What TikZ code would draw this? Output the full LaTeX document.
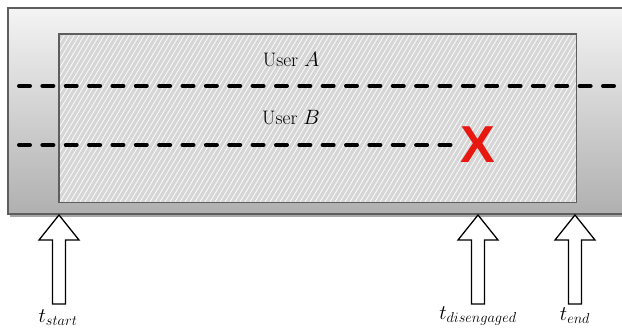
\documentclass[tikz,border=0pt]{standalone}
\usepackage{fontspec}
\newfontfamily\markfont{Liberation Sans}[BoldFont={Liberation Sans Bold}]
\definecolor{frameedge}{HTML}{5E5E5E}
\definecolor{paneltop}{HTML}{F4F4F4}
\definecolor{panelbot}{HTML}{B0B0B0}
\definecolor{sessionfill}{HTML}{D6D6D6}
\definecolor{failred}{HTML}{E8170F}
\tikzset{
  track/.style={line width=4pt, line cap=round, dash pattern=on 11pt off 12.36pt},
  upmark/.style={draw=black, fill=white, line width=1.3pt, line join=miter},
  lbl/.style={font=\fontsize{19.5}{22}\selectfont, inner sep=0pt},
}
\begin{document}
\begin{tikzpicture}[x=1pt,y=-1pt]
\useasboundingbox (0,0) rectangle (622,330);
% outer panel with a soft shadow
\fill[black!35] (10,11) rectangle (632,217);
\shade[top color=paneltop, bottom color=panelbot] (8,8) rectangle (632,214);
\draw[frameedge, line width=1.3pt] (632,8) -- (8,8) -- (8,214) -- (632,214);
% session window, hatched
\node[draw=none, fill=sessionfill, minimum width=517pt, minimum height=168pt, inner sep=0pt, anchor=north west] (win) at (59,34) {};
\begin{scope}
  \clip (59,34) rectangle (576,202);
  \foreach \k in {-120,-115,...,620}
    \draw[white, line width=0.7pt] (\k,202) -- (\k+100,34);
\end{scope}
\draw[frameedge, line width=1.3pt] (win.north west) rectangle (win.south east);
% user tracks
\coordinate (a0) at (19,86);
\coordinate (a1) at (614,86);
\coordinate (b0) at (19,145);
\coordinate (b1) at (452,145);
\draw[track] (a0) -- (a1);
\draw[track] (b0) -- (b1);
\node[lbl] (ua) at (291,60) {User $A$};
\node[lbl] (ub) at (291,118) {User $B$};
\node[text=failred, font=\markfont\bfseries\fontsize{52}{52}\selectfont, inner sep=0pt] (fail) at (478,145) {X};
% time markers
\foreach \nm/\xx in {s/59, d/478, e/575}{
  \draw[upmark] (\xx,215) -- (\xx+20,240) -- (\xx+6.5,240) -- (\xx+6.5,304)
    -- (\xx-6.5,304) -- (\xx-6.5,240) -- (\xx-20,240) -- cycle;
}
\node[lbl] (ts) at (58,318) {$t_{start}$};
\node[lbl] (td) at (478,316) {$t_{disengaged}$};
\node[lbl] (te) at (575,316) {$t_{end}$};
\end{tikzpicture}
\end{document}
